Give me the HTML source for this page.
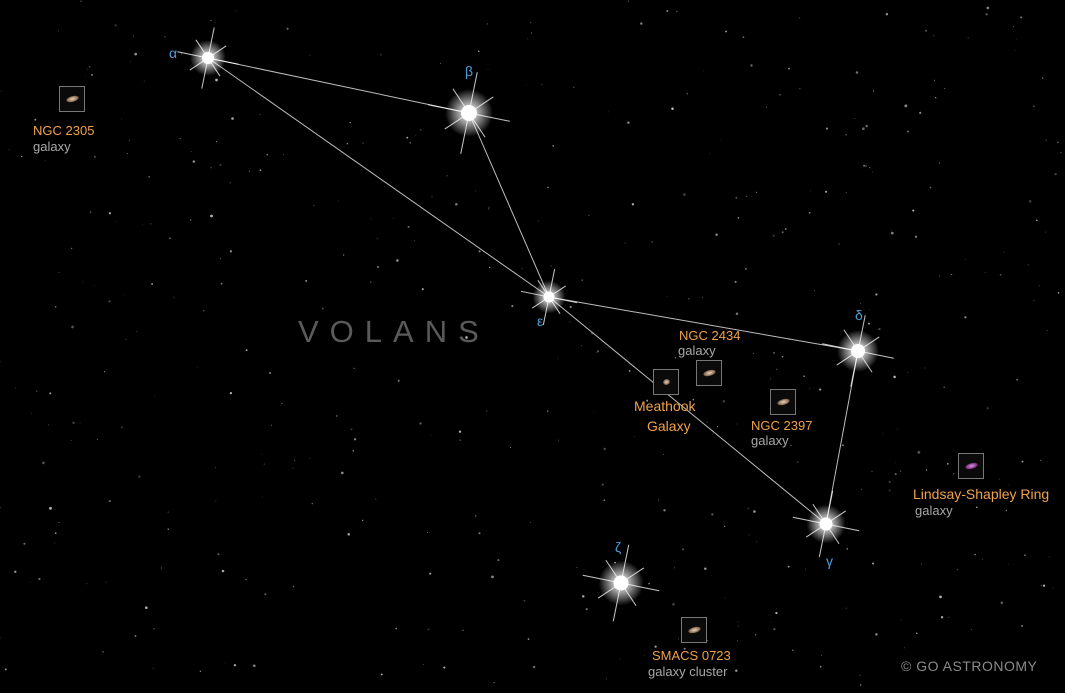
<!DOCTYPE html>
<html><head><meta charset="utf-8">
<style>
html,body{margin:0;padding:0;background:#000;}
#wrap{position:relative;width:1065px;height:693px;overflow:hidden;background:#000;font-family:"Liberation Sans",sans-serif;}
svg{position:absolute;left:0;top:0;}
.lbl{position:absolute;font-size:13px;line-height:15px;white-space:nowrap;}
.or{color:#f0a24a;}
.gr{color:#a8a8a8;}
.gk{position:absolute;color:#4c9fdc;font-size:14px;}
.box{position:absolute;width:24px;height:24px;border:1px solid #777;background:#0a0a0a;}
.box i{position:absolute;left:6px;top:9px;width:13px;height:6px;border-radius:50%;background:radial-gradient(#e8d8c0,#8a6a50 60%,transparent 75%);transform:rotate(-15deg);}
</style></head><body>
<div id="wrap">
<svg id="sky" width="1065" height="693">
<defs>
<radialGradient id="glow"><stop offset="0" stop-color="#fff" stop-opacity="1"/><stop offset="0.3" stop-color="#fff" stop-opacity="0.75"/><stop offset="1" stop-color="#fff" stop-opacity="0"/></radialGradient>
</defs>
<g id="bg"></g><g id="lines"></g><g id="stars"></g>
<text x="298" y="342" fill="#5a5a5a" font-size="31" letter-spacing="11" font-weight="300" font-family="Liberation Sans, sans-serif">VOLANS</text>
<text x="901" y="671" fill="#8a8a8a" font-size="14" letter-spacing="0.5" font-family="Liberation Sans, sans-serif">© GO ASTRONOMY</text>
</svg>

<div class="gk" style="left:169px;top:45px">α</div>
<div class="gk" style="left:465px;top:63px">β</div>
<div class="gk" style="left:537px;top:313px">ε</div>
<div class="gk" style="left:855px;top:307px">δ</div>
<div class="gk" style="left:826px;top:553px">γ</div>
<div class="gk" style="left:615px;top:539px">ζ</div>

<div class="box" style="left:59px;top:86px"><i></i></div>
<div class="lbl or" style="left:33px;top:123px">NGC 2305</div>
<div class="lbl gr" style="left:33px;top:139px">galaxy</div>

<div class="lbl or" style="left:679px;top:328px">NGC 2434</div>
<div class="lbl gr" style="left:678px;top:343px">galaxy</div>
<div class="box" style="left:696px;top:360px"><i></i></div>

<div class="box" style="left:653px;top:369px"><i style="width:7px;left:9px"></i></div>
<div class="lbl or" style="left:634px;top:399px;font-size:14px">Meathook</div>
<div class="lbl or" style="left:647px;top:419px;font-size:14px">Galaxy</div>

<div class="box" style="left:770px;top:389px"><i></i></div>
<div class="lbl or" style="left:751px;top:418px">NGC 2397</div>
<div class="lbl gr" style="left:751px;top:433px">galaxy</div>

<div class="box" style="left:958px;top:453px"><i style="background:radial-gradient(#d0a0e0,#803080 60%,transparent 75%)"></i></div>
<div class="lbl or" style="left:913px;top:487px;font-size:14px">Lindsay-Shapley Ring</div>
<div class="lbl gr" style="left:915px;top:503px">galaxy</div>

<div class="box" style="left:681px;top:617px"><i></i></div>
<div class="lbl or" style="left:652px;top:648px">SMACS 0723</div>
<div class="lbl gr" style="left:648px;top:664px">galaxy cluster</div>
</div>
<script>
const starNames = ["alpha","beta","epsilon","delta","gamma","zeta"];
const starX = [208,469,549,858,826,621];
const starY = [58,113,297,351,524,583];
const starSize = [24,32,22,28,26,30];
const links = [[0,1],[1,2],[0,2],[2,3],[3,4],[2,4]];
const NS="http://www.w3.org/2000/svg";
const bg=document.getElementById('bg'), lg=document.getElementById('lines'), sg=document.getElementById('stars');
let seed=7; function rnd(){seed=(seed*16807)%2147483647;return seed/2147483647;}
for(let i=0;i<450;i++){
  const c=document.createElementNS(NS,'circle');
  c.setAttribute('cx',(rnd()*1065).toFixed(1));
  c.setAttribute('cy',(rnd()*693).toFixed(1));
  const r=rnd(); c.setAttribute('r',(0.4+r*r*1.0).toFixed(2));
  c.setAttribute('fill','#fff'); c.setAttribute('opacity',(0.2+rnd()*0.5).toFixed(2));
  
  
  bg.appendChild(c);
}
links.forEach(l=>{
  const ln=document.createElementNS(NS,'line');
  ln.setAttribute('x1',starX[l[0]]);ln.setAttribute('y1',starY[l[0]]);
  ln.setAttribute('x2',starX[l[1]]);ln.setAttribute('y2',starY[l[1]]);
  ln.setAttribute('stroke','#bdbdbd');ln.setAttribute('stroke-width','1');
  
  
  lg.appendChild(ln);
});
starNames.forEach((n,i)=>{
  const g=document.createElementNS(NS,'g');
  
  
  const x=starX[i],y=starY[i],s=starSize[i];
  const gl=document.createElementNS(NS,'circle');
  gl.setAttribute('cx',x);gl.setAttribute('cy',y);gl.setAttribute('r',s*0.75);gl.setAttribute('fill','url(#glow)');
  g.appendChild(gl);
  for(let k=0;k<8;k++){
    const a=k*Math.PI/4+0.2, len=(k%2?0.7:1)*s*1.3;
    const sp=document.createElementNS(NS,'line');
    sp.setAttribute('x1',x-Math.cos(a)*len);sp.setAttribute('y1',y-Math.sin(a)*len);
    sp.setAttribute('x2',x+Math.cos(a)*len);sp.setAttribute('y2',y+Math.sin(a)*len);
    sp.setAttribute('stroke','#fff');sp.setAttribute('stroke-opacity','0.5');sp.setAttribute('stroke-width','1');
    g.appendChild(sp);
  }
  const core=document.createElementNS(NS,'circle');
  core.setAttribute('cx',x);core.setAttribute('cy',y);core.setAttribute('r',s*0.25);core.setAttribute('fill','#fff');
  g.appendChild(core);
  sg.appendChild(g);
});
</script>
</body></html>
